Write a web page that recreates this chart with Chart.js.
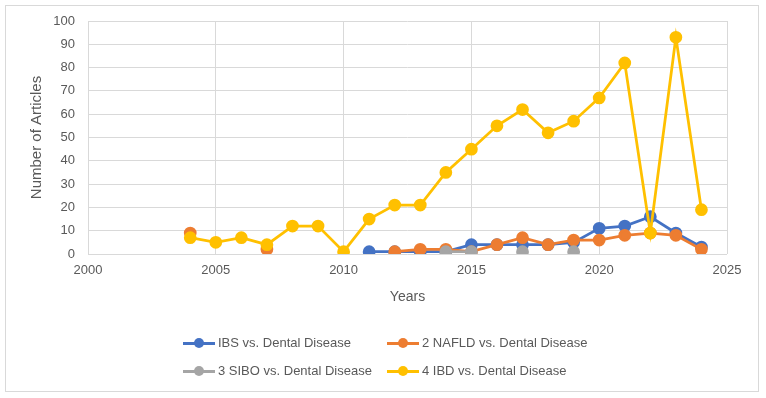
<!DOCTYPE html>
<html>
<head>
<meta charset="utf-8">
<script src="https://cdn.jsdelivr.net/npm/chart.js@4/dist/chart.umd.min.js"></script>
<style>
  html,body{margin:0;padding:0;background:#fff;}
  #wrap{position:relative;width:766px;height:398px;}
  #frame{position:absolute;left:5px;top:5px;width:754px;height:387px;border:1px solid #d9d9d9;box-sizing:border-box;}
  canvas{position:absolute;left:0;top:0;}
  .leg{position:absolute;font-family:"Liberation Sans",Arial,sans-serif;font-size:13px;color:#595959;white-space:nowrap;height:20px;line-height:20px;}
  .leg .ln{position:absolute;left:0;top:9px;width:32px;height:3px;}
  .leg .dt{position:absolute;left:11px;top:5px;width:10px;height:10px;border-radius:50%;}
  .leg .tx{position:absolute;left:35px;top:0;}
</style>
</head>
<body>
<div id="wrap">
  <div id="frame"></div>
  <canvas id="c" width="766" height="398"></canvas>
  <div id="legend"></div>
</div>
<script>
const years = [2004,2005,2006,2007,2008,2009,2010,2011,2012,2013,2014,2015,2016,2017,2018,2019,2020,2021,2022,2023,2024];
const seriesNames = ["IBS vs. Dental Disease","2 NAFLD vs. Dental Disease","3 SIBO vs. Dental Disease","4 IBD vs. Dental Disease"];
const ibs   = [null,null,null,null,null,null,null,1,1,1,1,4,4,4,4,5,11,12,16,9,3];
const nafld = [9,null,null,2,null,null,null,null,1,2,2,1,4,7,4,6,6,8,9,8,2];
const sibo  = [null,null,null,null,null,null,null,null,null,null,1,1,null,1,null,1,null,null,null,null,null];
const ibd   = [7,5,7,4,12,12,1,15,21,21,35,45,55,62,52,57,67,82,9,93,19];
const colors = ["#4472C4","#ED7D31","#A5A5A5","#FFC000"];
const xTicks = [2000,2005,2010,2015,2020,2025];
const yMax = 100;

const allSeries = [ibs,nafld,sibo,ibd];
const datasets = allSeries.map((vals,i)=>({
  label: seriesNames[i],
  data: years.map((yr,j)=>({x:yr,y:vals[j]})),
  borderColor: colors[i],
  backgroundColor: colors[i],
  pointBackgroundColor: colors[i],
  pointBorderColor: colors[i],
  pointRadius: 5,
  pointHoverRadius: 5,
  borderWidth: 2.75,
  spanGaps: false,
  order: 3 - i,
  tension: 0
}));

const FONT = "'Liberation Sans', Arial, sans-serif";
new Chart(document.getElementById('c'), {
  type: 'line',
  data: { datasets },
  options: {
    responsive: false,
    animation: false,
    events: [],
    layout: { padding: { left: 20, right: 39, top: 21, bottom: 84 } },
    plugins: { legend: { display: false }, tooltip: { enabled: false } },
    scales: {
      x: {
        type: 'linear',
        min: 2000, max: 2025,
        afterBuildTicks: (s) => { s.ticks = xTicks.map(v=>({value:v})); },
        afterFit: (s) => { s.height = 60; },
        grid: { color: '#d9d9d9', lineWidth: 1, drawTicks: false },
        border: { display: false },
        ticks: { padding: 9, color: '#595959', font: { family: FONT, size: 13 }, callback: v => String(v), maxRotation: 0 },
        title: { display: true, text: 'Years', color: '#595959', font: { family: FONT, size: 14 }, padding: { top: 4, bottom: 8 } }
      },
      y: {
        min: 0, max: yMax,
        afterFit: (s) => { s.width = 68; },
        grid: { color: '#d9d9d9', lineWidth: 1, drawTicks: false },
        border: { display: false },
        ticks: { stepSize: 10, padding: 13, color: '#595959', font: { family: FONT, size: 13 } },
        title: { display: true, text: 'Number of Articles', color: '#595959', font: { family: FONT, size: 15 }, padding: { top: 8, bottom: 0 } }
      }
    }
  }
});

// HTML legend
const legPos = [[183,333],[387,333],[183,361],[387,361]];
const leg = document.getElementById('legend');
seriesNames.forEach((name,i)=>{
  const d = document.createElement('div');
  d.className = 'leg';
  d.style.left = legPos[i][0]+'px';
  d.style.top = legPos[i][1]+'px';
  d.innerHTML = '<div class="ln" style="background:'+colors[i]+'"></div><div class="dt" style="background:'+colors[i]+'"></div><div class="tx"></div>';
  d.querySelector('.tx').textContent = name;
  leg.appendChild(d);
});
</script>
</body>
</html>
